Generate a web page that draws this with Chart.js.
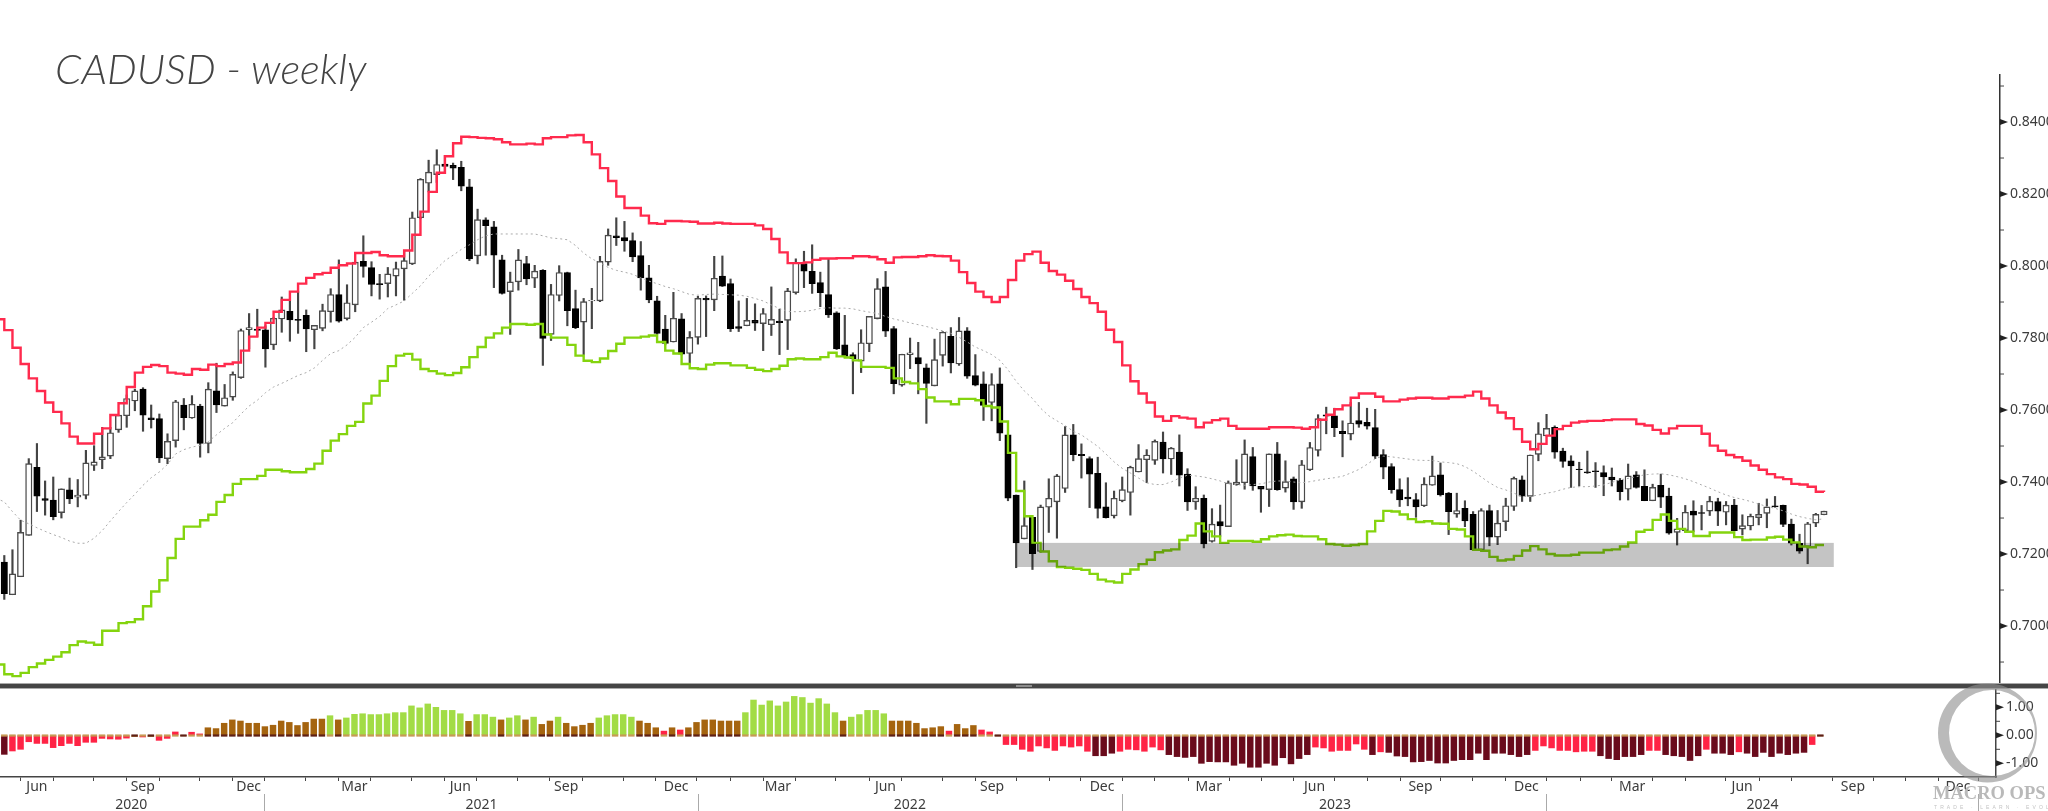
<!DOCTYPE html>
<html>
<head>
<meta charset="utf-8">
<title>CADUSD - weekly</title>
<script src="https://cdn.jsdelivr.net/npm/chart.js@4/dist/chart.umd.min.js"></script>
<style>
    html, body { margin: 0; background: #fff; overflow: hidden; }
    #page { position: relative; width: 2048px; height: 811px; overflow: hidden; }
    canvas { position: absolute; left: 0; }
    #price-chart { top: 0; }
    #momentum-chart { top: 689px; }
    #title { position: absolute; left: 55px; top: 43px; font: italic 300 42px Lato, sans-serif; color: #444; }
    #divider { position: absolute; left: 0; top: 683px; width: 2048px; height: 4px; background: #454545;
               border-top: 1px solid #aaa; border-bottom: 1px solid #aaa; }
    #grip { position: absolute; left: 1016px; top: 1px; width: 16px; height: 2px; background: #8d8d8d; }
    #logo { position: absolute; left: 0; top: 0; pointer-events: none; }
    #brand { position: absolute; left: 1933px; top: 783px; font: bold 18.5px "Liberation Serif", serif; color: #b9b9b9; white-space: nowrap; }
    #tagline { position: absolute; left: 1934px; top: 804px; font: 5px "Liberation Sans", sans-serif; letter-spacing: 3.1px; color: #c4c4c4; white-space: nowrap; }
</style>
</head>
<body>
<div id="page">
    <canvas id="price-chart" width="2048" height="684"></canvas>
    <canvas id="momentum-chart" width="2048" height="122"></canvas>
    <div id="title">CADUSD - weekly</div>
    <div id="divider"><div id="grip"></div></div>
    <svg id="logo" width="2048" height="811">
        <path fill="#8f8f8f" fill-opacity="0.62" fill-rule="evenodd"
              d="M1938 733a49.5 49.5 0 1 0 99 0a49.5 49.5 0 1 0 -99 0z M1949 733a43 43 0 1 0 86 0a43 43 0 1 0 -86 0z"/>
    </svg>
    <div id="brand">MACRO OPS</div>
    <div id="tagline">TRADE · LEARN · EVOLVE</div>
</div>
<script>
// Weekly candles, May 2020 to Aug 2024
const opens = [
    .7178,.7087,.7137,.7252,.7441,.7354,.7350,.7315,.7378,.7358,
    .7363,.7446,.7462,.7472,.7545,.7584,.7625,.7658,.7578,.7576,
    .7465,.7515,.7614,.7578,.7611,.7507,.7653,.7611,.7636,.7690,
    .7823,.7825,.7823,.7781,.7853,.7874,.7852,.7863,.7823,.7827,
    .7873,.7921,.7854,.7892,.8013,.7996,.7951,.7951,.7972,.7992,
    .8006,.8134,.8230,.8254,.8283,.8280,.8274,.8220,.8028,.8128,
    .8109,.8017,.7929,.7956,.8007,.7966,.7988,.7810,.7918,.7982,
    .7882,.7844,.7903,.7903,.8011,.8084,.8079,.8071,.8029,.7967,
    .7903,.7825,.7789,.7853,.7757,.7802,.7910,.7906,.7972,.7951,
    .7832,.7834,.7849,.7840,.7837,.7847,.7849,.7926,.8007,.7985,
    .7954,.7921,.7870,.7781,.7754,.7736,.7784,.7854,.7942,.7826,
    .7669,.7754,.7746,.7717,.7667,.7752,.7805,.7728,.7820,.7696,
    .7673,.7621,.7673,.7531,.7364,.7242,.7302,.7207,.7330,.7345,
    .7382,.7531,.7477,.7465,.7424,.7331,.7306,.7348,.7371,.7428,
    .7462,.7460,.7511,.7464,.7483,.7422,.7345,.7355,.7235,.7290,
    .7276,.7393,.7398,.7471,.7388,.7379,.7478,.7383,.7409,.7345,
    .7434,.7488,.7587,.7584,.7541,.7533,.7571,.7566,.7551,.7476,
    .7443,.7379,.7358,.7351,.7334,.7391,.7420,.7369,.7311,.7327,
    .7310,.7212,.7321,.7247,.7290,.7332,.7406,.7360,.7477,.7528,
    .7552,.7486,.7459,.7436,.7428,.7431,.7426,.7414,.7405,.7380,
    .7420,.7388,.7348,.7391,.7361,.7260,.7265,.7319,.7315,.7319,
    .7346,.7316,.7336,.7269,.7278,.7301,.7313,.7334,.7335,.7283,
    .7230,.7221,.7286,.7309
];
const highs = [
    .7196,.7212,.7294,.7465,.7507,.7403,.7414,.7381,.7411,.7407,
    .7488,.7501,.7552,.7552,.7586,.7642,.7658,.7662,.7614,.7589,
    .7534,.7627,.7632,.7640,.7616,.7676,.7730,.7671,.7706,.7825,
    .7868,.7880,.7834,.7857,.7914,.7903,.7929,.7878,.7835,.7894,
    .7937,.8017,.7948,.8011,.8084,.8012,.7977,.7996,.8011,.8043,
    .8150,.8243,.8294,.8323,.8307,.8286,.8291,.8241,.8158,.8134,
    .8124,.8030,.7983,.8046,.8027,.8002,.7990,.7949,.8001,.7983,
    .7933,.7910,.7938,.8027,.8103,.8134,.8124,.8092,.8068,.8002,
    .7916,.7863,.7927,.7868,.7818,.7916,.7917,.8027,.8028,.7964,
    .7903,.7910,.7895,.7882,.7942,.7880,.7938,.8020,.8041,.8059,
    .7983,.8020,.7873,.7863,.7759,.7823,.7860,.7965,.7985,.7832,
    .7755,.7800,.7788,.7728,.7797,.7818,.7829,.7857,.7829,.7754,
    .7706,.7701,.7717,.7531,.7364,.7403,.7302,.7336,.7409,.7421,
    .7554,.7560,.7506,.7470,.7469,.7398,.7375,.7414,.7444,.7504,
    .7490,.7517,.7539,.7496,.7531,.7437,.7387,.7364,.7326,.7336,
    .7403,.7462,.7517,.7496,.7388,.7478,.7510,.7459,.7414,.7460,
    .7510,.7587,.7608,.7605,.7570,.7621,.7621,.7605,.7602,.7490,
    .7451,.7409,.7412,.7368,.7412,.7472,.7453,.7371,.7369,.7348,
    .7318,.7326,.7336,.7321,.7355,.7414,.7417,.7475,.7565,.7588,
    .7556,.7494,.7473,.7455,.7486,.7454,.7445,.7439,.7410,.7450,
    .7429,.7434,.7394,.7422,.7383,.7299,.7335,.7348,.7335,.7360,
    .7355,.7346,.7352,.7309,.7311,.7341,.7353,.7360,.7336,.7297,
    .7255,.7288,.7313,.7319
];
const lows = [
    .7074,.7087,.7137,.7252,.7318,.7308,.7295,.7300,.7340,.7331,
    .7353,.7432,.7437,.7465,.7538,.7552,.7598,.7541,.7550,.7454,
    .7451,.7497,.7545,.7577,.7469,.7481,.7593,.7611,.7627,.7688,
    .7770,.7804,.7719,.7768,.7816,.7791,.7813,.7762,.7770,.7820,
    .7844,.7844,.7850,.7873,.7969,.7917,.7908,.7914,.7917,.7905,
    .8004,.8131,.8206,.8232,.8259,.8240,.8209,.8015,.8006,.8030,
    .7940,.7922,.7810,.7933,.7948,.7940,.7724,.7793,.7903,.7834,
    .7826,.7754,.7826,.7901,.8002,.8057,.8041,.8012,.7933,.7898,
    .7810,.7781,.7789,.7753,.7730,.7783,.7804,.7876,.7943,.7818,
    .7818,.7834,.7821,.7765,.7807,.7754,.7768,.7922,.7940,.7924,
    .7887,.7857,.7768,.7747,.7645,.7704,.7762,.7853,.7804,.7645,
    .7666,.7715,.7645,.7563,.7667,.7722,.7703,.7724,.7688,.7667,
    .7571,.7570,.7515,.7348,.7162,.7242,.7157,.7205,.7260,.7244,
    .7371,.7459,.7411,.7329,.7300,.7300,.7300,.7345,.7308,.7428,
    .7398,.7449,.7425,.7421,.7389,.7321,.7324,.7217,.7233,.7249,
    .7276,.7391,.7380,.7377,.7316,.7332,.7377,.7372,.7324,.7327,
    .7432,.7472,.7534,.7526,.7470,.7517,.7552,.7547,.7465,.7409,
    .7369,.7332,.7334,.7302,.7332,.7391,.7361,.7254,.7302,.7276,
    .7212,.7212,.7223,.7226,.7265,.7321,.7346,.7346,.7459,.7528,
    .7466,.7441,.7385,.7389,.7424,.7385,.7362,.7389,.7350,.7350,
    .7383,.7348,.7348,.7329,.7255,.7225,.7262,.7262,.7267,.7307,
    .7279,.7281,.7264,.7253,.7267,.7281,.7273,.7330,.7276,.7225,
    .7202,.7173,.7276,.7309
];
const closes = [
    .7090,.7145,.7260,.7451,.7361,.7349,.7304,.7381,.7353,.7364,
    .7453,.7456,.7470,.7537,.7586,.7632,.7653,.7586,.7573,.7467,
    .7513,.7623,.7579,.7616,.7507,.7658,.7614,.7634,.7699,.7821,
    .7829,.7821,.7770,.7855,.7878,.7850,.7849,.7825,.7835,.7876,
    .7921,.7847,.7898,.8011,.7999,.7949,.7948,.7978,.7993,.8015,
    .8134,.8241,.8261,.8282,.8277,.8272,.8222,.8020,.8129,.8112,
    .8030,.7924,.7956,.8017,.7964,.7986,.7799,.7921,.7982,.7876,
    .7829,.7901,.7905,.8013,.8086,.8079,.8070,.8025,.7967,.7906,
    .7813,.7785,.7855,.7755,.7802,.7910,.7906,.7966,.7944,.7826,
    .7827,.7849,.7841,.7868,.7852,.7843,.7931,.8009,.7986,.7951,
    .7926,.7864,.7770,.7749,.7743,.7787,.7860,.7937,.7819,.7673,
    .7755,.7759,.7728,.7674,.7740,.7816,.7731,.7820,.7694,.7669,
    .7613,.7671,.7536,.7355,.7231,.7279,.7201,.7331,.7355,.7417,
    .7531,.7476,.7473,.7422,.7327,.7301,.7355,.7379,.7441,.7465,
    .7475,.7513,.7464,.7494,.7419,.7345,.7355,.7228,.7283,.7278,
    .7398,.7400,.7478,.7389,.7380,.7478,.7379,.7401,.7345,.7448,
    .7496,.7576,.7583,.7551,.7534,.7564,.7561,.7555,.7472,.7441,
    .7379,.7350,.7353,.7331,.7394,.7417,.7364,.7318,.7321,.7292,
    .7212,.7321,.7247,.7286,.7334,.7410,.7361,.7475,.7534,.7549,
    .7483,.7457,.7445,.7434,.7425,.7429,.7414,.7406,.7373,.7417,
    .7385,.7348,.7385,.7358,.7258,.7270,.7316,.7308,.7313,.7347,
    .7319,.7336,.7265,.7279,.7305,.7310,.7331,.7331,.7282,.7230,
    .7208,.7284,.7310,.7319
];

// Bands and the dotted midline start one week before the first candle
const upperBand = [
    .7852,.7822,.7773,.7728,.7688,.7653,.7621,.7595,.7563,.7526,
    .7507,.7507,.7534,.7549,.7586,.7619,.7664,.7704,.7720,.7725,
    .7722,.7704,.7701,.7698,.7714,.7712,.7726,.7722,.7728,.7732,
    .7765,.7804,.7829,.7842,.7873,.7906,.7929,.7951,.7967,.7977,
    .7981,.7995,.8002,.8007,.8036,.8036,.8039,.8030,.8027,.8027,
    .8043,.8087,.8151,.8206,.8259,.8305,.8341,.8359,.8358,.8356,
    .8355,.8352,.8344,.8338,.8338,.8340,.8338,.8355,.8358,.8358,
    .8363,.8364,.8344,.8310,.8272,.8236,.8193,.8161,.8161,.8140,
    .8119,.8117,.8125,.8125,.8124,.8123,.8118,.8118,.8120,.8118,
    .8117,.8117,.8117,.8113,.8103,.8075,.8038,.8008,.8008,.8010,
    .8017,.8021,.8021,.8022,.8022,.8027,.8027,.8025,.8019,.8009,
    .8024,.8025,.8025,.8027,.8030,.8028,.8027,.8015,.7983,.7953,
    .7929,.7914,.7900,.7914,.7961,.8015,.8033,.8040,.8009,.7986,
    .7976,.7959,.7936,.7914,.7897,.7873,.7823,.7789,.7724,.7680,
    .7646,.7621,.7582,.7570,.7583,.7579,.7576,.7552,.7565,.7572,
    .7576,.7556,.7548,.7548,.7548,.7548,.7552,.7552,.7552,.7551,
    .7548,.7552,.7573,.7587,.7602,.7613,.7634,.7646,.7646,.7637,
    .7624,.7624,.7629,.7632,.7634,.7634,.7632,.7632,.7636,.7636,
    .7640,.7651,.7632,.7613,.7593,.7577,.7547,.7512,.7491,.7506,
    .7529,.7547,.7556,.7565,.7568,.7570,.7570,.7572,.7574,.7574,
    .7574,.7561,.7557,.7545,.7535,.7549,.7556,.7556,.7556,.7534,
    .7501,.7487,.7475,.7469,.7459,.7446,.7434,.7422,.7413,.7408,
    .7395,.7393,.7387,.7373,.7372
];
const lowerBand = [
    .6893,.6866,.6861,.6870,.6886,.6896,.6906,.6915,.6927,.6947,
    .6957,.6954,.6948,.6987,.6987,.7008,.7011,.7019,.7055,.7096,
    .7127,.7189,.7242,.7276,.7276,.7294,.7309,.7345,.7364,.7395,
    .7408,.7408,.7417,.7434,.7434,.7430,.7427,.7427,.7436,.7451,
    .7487,.7515,.7533,.7556,.7567,.7618,.7640,.7681,.7722,.7751,
    .7756,.7740,.7714,.7708,.7701,.7697,.7703,.7719,.7747,.7775,
    .7801,.7813,.7829,.7839,.7839,.7837,.7839,.7810,.7801,.7801,
    .7781,.7751,.7737,.7733,.7743,.7764,.7784,.7801,.7801,.7804,
    .7807,.7789,.7765,.7757,.7728,.7716,.7714,.7726,.7730,.7730,
    .7724,.7724,.7717,.7712,.7708,.7714,.7723,.7741,.7743,.7741,
    .7741,.7747,.7759,.7749,.7746,.7738,.7720,.7720,.7720,.7717,
    .7688,.7678,.7674,.7658,.7635,.7624,.7624,.7616,.7631,.7631,
    .7627,.7611,.7607,.7568,.7481,.7375,.7305,.7231,.7207,.7180,
    .7164,.7162,.7159,.7156,.7145,.7129,.7124,.7121,.7145,.7157,
    .7172,.7184,.7205,.7210,.7213,.7239,.7251,.7285,.7263,.7249,
    .7231,.7236,.7236,.7236,.7234,.7241,.7249,.7252,.7254,.7250,
    .7249,.7249,.7241,.7228,.7226,.7223,.7225,.7228,.7263,.7292,
    .7320,.7318,.7310,.7297,.7289,.7291,.7285,.7284,.7270,.7268,
    .7249,.7212,.7209,.7192,.7182,.7185,.7195,.7210,.7222,.7213,
    .7200,.7196,.7196,.7198,.7204,.7204,.7204,.7211,.7213,.7221,
    .7232,.7262,.7267,.7295,.7310,.7292,.7270,.7262,.7250,.7250,
    .7260,.7260,.7260,.7247,.7239,.7240,.7240,.7246,.7248,.7240,
    .7232,.7221,.7219,.7225,.7225
];
const midBand = [
    .7355,.7345,.7318,.7294,.7284,.7273,.7263,.7254,.7246,.7236,
    .7230,.7230,.7244,.7265,.7292,.7318,.7343,.7366,.7391,.7412,
    .7428,.7449,.7478,.7490,.7497,.7502,.7512,.7531,.7549,.7565,
    .7589,.7611,.7627,.7648,.7664,.7674,.7685,.7696,.7704,.7717,
    .7738,.7757,.7765,.7781,.7802,.7829,.7844,.7860,.7882,.7892,
    .7903,.7924,.7945,.7972,.7993,.8015,.8030,.8046,.8059,.8073,
    .8084,.8089,.8089,.8089,.8089,.8089,.8089,.8084,.8078,.8076,
    .8073,.8057,.8036,.8020,.8009,.7996,.7988,.7983,.7977,.7967,
    .7958,.7951,.7943,.7937,.7929,.7921,.7919,.7921,.7922,.7921,
    .7920,.7919,.7916,.7910,.7903,.7892,.7882,.7874,.7873,.7874,
    .7877,.7882,.7884,.7883,.7883,.7881,.7876,.7872,.7868,.7860,
    .7853,.7848,.7842,.7837,.7832,.7826,.7820,.7813,.7802,.7789,
    .7775,.7765,.7754,.7738,.7712,.7680,.7653,.7632,.7605,.7584,
    .7570,.7557,.7541,.7531,.7515,.7499,.7478,.7456,.7438,.7425,
    .7411,.7398,.7393,.7393,.7400,.7411,.7419,.7417,.7414,.7409,
    .7403,.7395,.7393,.7391,.7393,.7395,.7400,.7403,.7403,.7400,
    .7398,.7401,.7405,.7409,.7412,.7416,.7425,.7435,.7449,.7465,
    .7472,.7470,.7467,.7464,.7461,.7460,.7460,.7456,.7454,.7451,
    .7443,.7430,.7414,.7398,.7385,.7378,.7369,.7360,.7360,.7364,
    .7369,.7373,.7380,.7385,.7387,.7387,.7389,.7392,.7399,.7406,
    .7410,.7415,.7420,.7422,.7423,.7420,.7415,.7409,.7401,.7392,
    .7383,.7373,.7364,.7357,.7352,.7346,.7339,.7332,.7327,.7320,
    .7311,.7304,.7299,.7295,.7298
];

// Lower panel, one bar per candle
const momentum = [
    -.68,-.56,-.50,-.23,-.29,-.29,-.44,-.37,-.29,-.37,
    -.25,-.25,-.11,-.13,-.14,-.10,-.04,-.06,-.04,-.18,
    -.11,.12,-.01,.11,.05,.27,.24,.43,.55,.51,
    .43,.43,.31,.36,.51,.46,.35,.46,.58,.58,
    .70,.55,.62,.75,.77,.74,.74,.77,.81,.81,
    1.05,.98,1.12,1.00,.89,.89,.77,.50,.74,.74,
    .65,.55,.62,.70,.55,.65,.39,.51,.65,.43,
    .31,.36,.43,.62,.70,.74,.74,.65,.51,.43,
    .27,.15,.27,.19,.27,.46,.55,.55,.51,.51,
    .51,.81,1.26,1.08,1.23,1.05,1.19,1.39,1.35,1.15,
    1.31,1.12,.81,.51,.65,.74,.89,.89,.77,.51,
    .51,.51,.43,.24,.27,.31,.15,.39,.24,.35,
    .19,.12,-.01,-.33,-.33,-.50,-.57,-.38,-.45,-.54,
    -.38,-.42,-.38,-.57,-.73,-.73,-.64,-.57,-.50,-.52,
    -.57,-.42,-.52,-.69,-.76,-.79,-.76,-1.00,-.94,-.95,
    -.95,-1.07,-1.00,-1.14,-1.14,-1.00,-1.07,-.80,-1.02,-.83,
    -.69,-.42,-.45,-.57,-.54,-.54,-.31,-.50,-.69,-.59,
    -.61,-.74,-.76,-.95,-.94,-.90,-.99,-.99,-.90,-.87,
    -.87,-.64,-.87,-.64,-.64,-.69,-.76,-.69,-.54,-.38,
    -.45,-.54,-.54,-.59,-.57,-.57,-.73,-.83,-.87,-.76,
    -.76,-.69,-.54,-.54,-.69,-.73,-.76,-.90,-.73,-.50,
    -.64,-.64,-.69,-.59,-.64,-.76,-.61,-.76,-.64,-.69,
    -.64,-.61,-.33,-.02
];

// Support zone, and where the time axis marks fall (in weeks from the first candle)
const zoneTop = .7231;
const zoneBottom = .7164;
const zoneStart = 124.1;
const zoneEnd = 224.2;
const monthTicks = [
    2,6,11,15,19,24,28,32,37,41,45,50,54,58,63,67,71,76,80,85,
    89.2,93.2,97.1,102.1,106.2,110.2,115.2,119.2,124.3,128.3,132.2,137.3,141.3,145.4,150.4,154.4,158.3,163.4,167.4,
    171.4,176.4,180.3,184.4,189.4,193.5,197.4,202.4,206.4,211.4,215.5,219.5,224.5,229.5,233.5,237.5,242.4
];
const quarterLabels = ['Jun','Sep','Dec','Mar','Jun','Sep','Dec','Mar','Jun','Sep','Dec','Mar','Jun','Sep','Dec','Mar','Jun','Sep','Dec'];
const quarterWeeks = [4,17,30,43,56,69,82.5,95,108.2,121.3,134.8,147.9,160.9,173.9,186.9,199.9,213.4,227,239.9];
const yearLabels = ['2020','2021','2022','2023','2024'];
const yearWeeks = [15.6,58.6,111.2,163.4,215.9];
const yearBreaks = [32,85.2,137.3,189.4,242.4];

const WEEK_MIN = -0.527;
const WEEK_MAX = 244.57;
const TEXT_COLOR = '#3c3c3c';
const AXIS_FONT = { family: '"Noto Sans", sans-serif', size: 14 };

// Fixes the axis width and stops half-label padding from shrinking the plot
function fitYAxis(width) {
    return scale => {
        scale.width = width;
        scale.paddingTop = 0;
        scale.paddingBottom = 0;
    };
}

// Draws the arrow-shaped major ticks and short minor ticks of a y axis
const axisMarks = {
    id: 'axisMarks',
    afterDraw(chart) {
        const scale = chart.scales.y;
        const ctx = chart.ctx;
        ctx.save();
        ctx.fillStyle = '#222';
        ctx.strokeStyle = '#444';
        scale.ticks.forEach(tick => {
            const y = scale.getPixelForValue(tick.value);
            ctx.beginPath();
            if (tick.label) {
                ctx.moveTo(scale.left, y - 3);
                ctx.lineTo(scale.left + 8, y);
                ctx.lineTo(scale.left, y + 3);
                ctx.fill();
            } else {
                ctx.moveTo(scale.left, y);
                ctx.lineTo(scale.left + 4, y);
                ctx.stroke();
            }
        });
        ctx.restore();
    }
};

// Grey box laid over the marks, so lines and candles show through it
const supportZone = {
    id: 'supportZone',
    afterDatasetsDraw(chart) {
        const { x, y } = chart.scales;
        const ctx = chart.ctx;
        const left = x.getPixelForValue(zoneStart);
        const top = y.getPixelForValue(zoneTop);
        ctx.save();
        ctx.globalCompositeOperation = 'multiply';
        ctx.fillStyle = '#c4c4c4';
        ctx.fillRect(left, top, x.getPixelForValue(zoneEnd) - left, y.getPixelForValue(zoneBottom) - top);
        ctx.restore();
    }
};

function bandDataset(values, color, order) {
    return {
        type: 'line',
        data: values.map((y, i) => ({ x: i - 1, y })),
        borderColor: color,
        borderWidth: 2.4,
        pointRadius: 0,
        stepped: true,
        order
    };
}

const BROWN = '#a5640f';

function momentumColor(value) {
    if (value > 0.6) return '#a2dc45';
    if (value > 0.2 || Math.abs(value) < 0.05) return BROWN;
    if (value > -0.6) return '#ff2345';
    return '#6a0b1c';
}

new Chart(document.getElementById('price-chart'), {
    type: 'bar',
    data: {
        datasets: [
            {
                data: highs.map((high, i) => ({ x: i, y: [lows[i], high] })),
                backgroundColor: '#444',
                barThickness: 1.5,
                grouped: false,
                order: 5
            },
            {
                data: opens.map((open, i) => ({ x: i, y: [open, closes[i]] })),
                backgroundColor: opens.map((open, i) => closes[i] >= open ? '#fff' : '#000'),
                borderColor: opens.map((open, i) => closes[i] >= open ? '#4a4a4a' : '#000'),
                borderWidth: 1.4,
                borderSkipped: false,
                barThickness: 6.4,
                grouped: false,
                order: 4
            },
            {
                type: 'line',
                data: midBand.map((y, i) => ({ x: i - 1, y })),
                borderColor: '#aaa',
                borderWidth: 1,
                borderDash: [2, 3],
                pointRadius: 0,
                order: 3
            },
            bandDataset(upperBand, '#ff2a4d', 1),
            bandDataset(lowerBand, '#84d40e', 2)
        ]
    },
    options: {
        responsive: false,
        animation: false,
        layout: { autoPadding: false, padding: { top: 75 } },
        plugins: { legend: { display: false }, tooltip: { enabled: false } },
        scales: {
            x: {
                type: 'linear',
                display: false,
                offset: false,
                min: WEEK_MIN,
                max: WEEK_MAX,
                grid: { display: false, offset: false }
            },
            y: {
                position: 'right',
                min: 0.6839,
                max: 0.85306,
                afterFit: fitYAxis(48),
                border: { color: '#333', width: 1.5 },
                grid: { drawOnChartArea: false, drawTicks: false },
                ticks: {
                    stepSize: 0.01,
                    includeBounds: false,
                    autoSkip: false,
                    padding: 10,
                    color: TEXT_COLOR,
                    font: AXIS_FONT,
                    callback: value => Math.round(value * 100) % 2 === 0 ? value.toFixed(4) : ''
                }
            }
        }
    },
    plugins: [supportZone, axisMarks]
});

new Chart(document.getElementById('momentum-chart'), {
    type: 'bar',
    data: {
        datasets: [
            {
                data: momentum.map((y, i) => ({ x: i, y })),
                backgroundColor: momentum.map(momentumColor),
                barThickness: 5.8,
                grouped: false,
                order: 2
            },
            {
                // thin foot where each bar meets the zero line
                data: momentum.map((y, i) => ({ x: i, y: [-0.035, 0.02] })),
                backgroundColor: momentum.map(value => momentumColor(value) === BROWN ? '#5e1f14' : '#c79a55'),
                barThickness: 5.8,
                grouped: false,
                order: 1
            }
        ]
    },
    options: {
        responsive: false,
        animation: false,
        layout: { autoPadding: false },
        plugins: { legend: { display: false }, tooltip: { enabled: false } },
        scales: {
            x: {
                type: 'linear',
                weight: 0,
                offset: false,
                min: WEEK_MIN,
                max: WEEK_MAX,
                afterBuildTicks: scale => {
                    scale.ticks = [...monthTicks, ...quarterWeeks].sort((a, b) => a - b).map(value => ({ value }));
                },
                afterFit: scale => { scale.height = 17; },
                border: { color: '#444', width: 1.5 },
                grid: {
                    drawOnChartArea: false,
                    offset: false,
                    tickLength: 4,
                    tickColor: ctx => ctx.tick && monthTicks.includes(ctx.tick.value) ? '#444' : 'transparent'
                },
                ticks: {
                    autoSkip: false,
                    maxRotation: 0,
                    padding: -2,
                    color: TEXT_COLOR,
                    font: AXIS_FONT,
                    callback: value => quarterLabels[quarterWeeks.indexOf(value)] || ''
                }
            },
            xYears: {
                type: 'linear',
                position: 'bottom',
                weight: 1,
                offset: false,
                min: WEEK_MIN,
                max: WEEK_MAX,
                afterBuildTicks: scale => {
                    scale.ticks = [...yearBreaks, ...yearWeeks].sort((a, b) => a - b).map(value => ({ value }));
                },
                afterFit: scale => { scale.height = 17; },
                border: { display: false },
                grid: {
                    drawOnChartArea: false,
                    offset: false,
                    tickLength: 17,
                    tickColor: ctx => ctx.tick && yearBreaks.includes(ctx.tick.value) ? '#aaa' : 'transparent'
                },
                ticks: {
                    autoSkip: false,
                    maxRotation: 0,
                    padding: -14,
                    color: TEXT_COLOR,
                    font: AXIS_FONT,
                    callback: value => yearLabels[yearWeeks.indexOf(value)] || ''
                }
            },
            y: {
                position: 'right',
                min: -1.489,
                max: 1.654,
                afterFit: fitYAxis(52),
                afterBuildTicks: scale => {
                    scale.ticks = [1.5, 1, 0.5, 0, -0.5, -1].map(value => ({ value }));
                },
                border: { color: '#444', width: 1.5 },
                grid: { drawOnChartArea: false, drawTicks: false },
                ticks: {
                    autoSkip: false,
                    padding: 10,
                    color: TEXT_COLOR,
                    font: AXIS_FONT,
                    callback: value => Number.isInteger(value) ? value.toFixed(2) : ''
                }
            }
        }
    },
    plugins: [axisMarks]
});
</script>
</body>
</html>
